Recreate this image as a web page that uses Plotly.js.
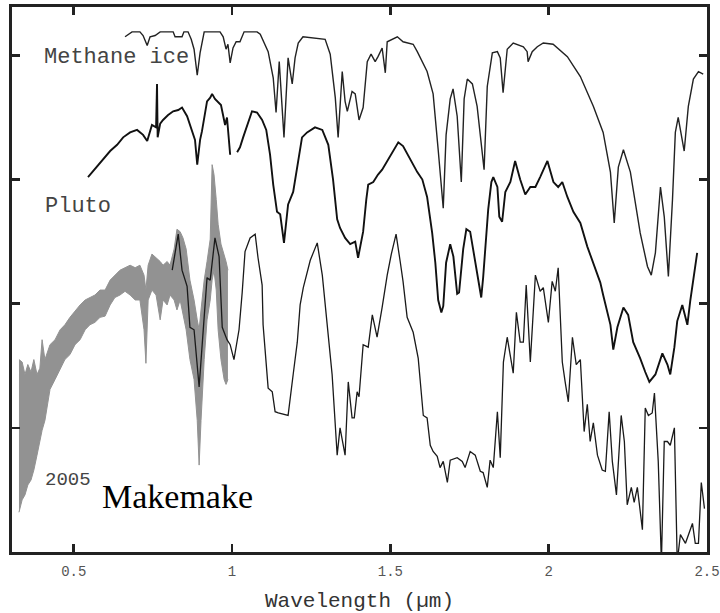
<!DOCTYPE html>
<html>
<head>
<meta charset="utf-8">
<script src="https://cdn.plot.ly/plotly-3.0.1.min.js"></script>
<style>html,body{margin:0;padding:0;background:#fff;}#chart{width:720px;height:613px;}</style>
</head>
<body>
<div id="chart"></div>
<script>
// ---- Data (wavelength in µm, offset relative reflectance) ----
var methaneX = [
  0.662,0.684,0.709,0.719,0.732,0.741,0.757,0.773,0.814,0.820,
  0.842,0.848,0.861,0.871,0.880,0.890,0.899,0.912,0.937,0.962,
  0.972,0.981,0.987,0.994,1.003,1.013,1.025,1.038,1.079,1.089,
  1.114,1.130,1.139,1.149,1.164,1.177,1.190,1.199,1.209,1.224,
  1.294,1.310,1.326,1.335,1.348,1.357,1.364,1.379,1.389,1.401,
  1.414,1.427,1.439,1.452,1.461,1.474,1.484,1.490,1.522,1.540,
  1.572,1.585,1.616,1.635,1.651,1.667,1.676,1.689,1.698,1.711,
  1.724,1.733,1.743,1.759,1.774,1.784,1.796,1.806,1.822,1.838,
  1.847,1.856,1.869,1.888,1.920,1.932,1.935,1.948,1.964,1.983,
  2.014,2.059,2.100,2.141,2.172,2.195,2.207,2.220,2.236,2.258,
  2.289,2.312,2.324,2.337,2.353,2.365,2.378,2.391,2.400,2.409,
  2.428,2.441,2.457,2.473,2.488];
var methaneY = [
  4.15,4.19,4.19,4.16,4.08,4.15,4.16,4.19,4.19,4.15,
  4.15,4.19,4.19,4.13,4.05,3.84,4.02,4.19,4.19,4.19,
  4.15,4.05,4.09,3.94,4.06,4.11,4.11,4.19,4.19,4.17,
  4.03,3.82,3.54,3.95,3.34,3.98,3.77,3.98,4.10,4.15,
  4.13,4.01,3.66,3.34,3.87,3.63,3.55,3.71,3.69,3.48,
  3.58,3.95,4.01,3.95,3.99,4.06,3.86,4.11,4.15,4.11,
  4.09,4.03,3.87,3.69,3.24,2.77,3.36,3.65,3.73,3.51,
  2.98,3.65,3.81,3.77,3.59,3.38,3.08,3.75,4.02,4.03,
  3.98,3.70,4.05,4.10,4.07,4.03,3.95,4.03,4.07,4.10,
  4.09,3.99,3.83,3.59,3.38,3.06,2.65,3.10,3.24,3.06,
  2.57,2.30,2.23,2.41,2.94,2.70,2.22,2.84,3.38,3.50,
  3.23,3.59,3.81,3.87,3.85];

var plutoX = [
  0.545,0.558,0.574,0.593,0.615,0.637,0.656,0.678,0.700,0.719,
  0.732,0.747,0.760,0.763,0.765,0.773,0.782,0.798,0.814,0.830,
  0.842,0.858,0.874,0.883,0.890,0.899,0.905,0.921,0.931,0.937,
  0.946,0.953,0.965,0.978,0.984,0.994,
  null,
  1.016,1.025,1.035,1.048,1.063,1.079,1.095,1.108,1.120,1.130,
  1.142,1.152,1.164,1.177,1.193,1.209,1.221,1.237,1.262,1.285,
  1.304,1.319,1.332,1.341,1.357,1.373,1.389,1.398,1.414,1.424,
  1.430,1.446,1.461,1.474,1.490,1.506,1.525,1.540,1.563,1.585,
  1.601,1.616,1.632,1.642,1.651,1.661,1.667,1.676,1.689,1.699,
  1.711,1.717,1.730,1.740,1.752,1.768,1.778,1.787,1.793,1.803,
  1.809,1.819,1.825,1.838,1.844,1.853,1.863,1.879,1.894,1.910,
  1.926,1.942,1.958,1.973,1.996,2.015,2.030,2.043,2.059,2.078,
  2.100,2.122,2.141,2.163,2.172,2.195,2.204,2.217,2.236,2.251,
  2.267,2.289,2.305,2.318,2.337,2.359,2.375,2.384,2.397,2.406,
  2.422,2.438,2.447,2.457,2.469];
var plutoY = [
  3.02,3.06,3.10,3.16,3.23,3.28,3.34,3.38,3.40,3.36,
  3.31,3.44,3.42,3.77,3.34,3.45,3.48,3.52,3.55,3.56,
  3.58,3.51,3.39,3.32,3.12,3.32,3.39,3.63,3.66,3.69,
  3.65,3.63,3.60,3.44,3.50,3.20,
  null,
  3.22,3.26,3.34,3.44,3.55,3.54,3.48,3.40,3.20,2.96,
  2.74,2.72,2.49,2.80,2.90,3.15,3.34,3.38,3.42,3.40,
  3.28,3.00,2.68,2.61,2.53,2.48,2.50,2.37,2.58,2.84,
  2.96,2.98,3.04,3.08,3.15,3.22,3.30,3.27,3.16,3.06,
  3.00,2.86,2.57,2.33,2.03,1.93,1.98,2.33,2.48,2.38,
  2.08,2.09,2.44,2.60,2.58,2.35,2.21,2.05,2.21,2.52,
  2.76,2.98,3.02,2.94,2.70,2.66,2.90,2.98,3.15,3.00,
  2.88,2.94,2.94,3.02,3.15,2.98,2.94,2.98,2.86,2.74,
  2.65,2.46,2.33,2.17,2.07,1.83,1.63,1.81,1.97,1.91,
  1.69,1.56,1.45,1.37,1.43,1.60,1.51,1.43,1.65,1.86,
  1.99,1.83,2.02,2.18,2.41];

var makemakeX = [
  0.811,0.830,0.842,0.858,0.867,0.880,0.896,0.908,0.921,0.931,
  0.946,0.959,0.969,0.984,0.994,1.006,1.022,1.032,1.041,1.057,
  1.073,1.082,1.095,1.098,1.114,1.127,1.136,1.146,1.177,1.193,
  1.206,1.215,1.225,1.247,1.269,1.285,1.300,1.316,1.332,1.341,
  1.357,1.367,1.379,1.386,1.395,1.401,1.414,1.430,1.443,1.458,
  1.474,1.490,1.503,1.518,1.531,1.540,1.553,1.563,1.572,1.588,
  1.604,1.616,1.626,1.635,1.648,1.657,1.667,1.680,1.689,1.711,
  1.727,1.736,1.752,1.768,1.784,1.793,1.806,1.815,1.825,1.838,
  1.847,1.857,1.869,1.888,1.898,1.910,1.920,1.929,1.942,1.958,
  1.973,1.983,1.999,2.011,2.021,2.030,2.043,2.052,2.062,2.075,
  2.087,2.100,2.112,2.122,2.131,2.141,2.154,2.169,2.179,2.191,
  2.201,2.214,2.229,2.239,2.248,2.261,2.270,2.280,2.296,2.305,
  2.315,2.327,2.334,2.346,2.356,2.365,2.375,2.384,2.397,2.406,
  2.416,2.432,2.441,2.454,2.463,2.473,2.482,2.492];
var makemakeY = [
  2.27,2.56,2.27,2.14,1.81,1.79,1.33,1.73,2.21,2.19,
  2.53,2.38,1.81,1.71,1.67,1.55,1.79,2.09,2.42,2.53,
  2.56,2.37,2.15,1.83,1.32,1.29,1.13,1.12,1.10,1.43,
  1.69,1.99,2.13,2.35,2.49,2.23,1.83,1.43,0.78,1.00,
  0.78,1.37,1.08,1.08,1.29,1.25,1.67,1.65,1.91,1.73,
  1.97,2.23,2.40,2.56,2.34,2.18,1.89,1.83,1.77,1.56,
  1.10,1.08,0.86,0.81,0.77,0.68,0.73,0.56,0.74,0.76,
  0.73,0.68,0.81,0.78,0.65,0.64,0.52,0.74,0.68,1.13,
  0.76,1.53,1.73,1.44,1.93,1.69,1.69,2.15,1.53,2.23,
  2.10,2.13,1.85,2.18,2.10,2.29,1.53,1.37,1.21,1.73,
  1.51,1.55,0.97,1.19,0.89,1.04,0.78,0.66,0.65,1.13,
  0.73,0.46,1.10,0.89,0.38,0.52,0.40,0.52,0.18,1.16,
  1.10,1.12,1.28,0.73,-0.08,0.89,0.89,0.86,1.00,-0.08,
  0.14,0.07,0.14,0.23,0.07,0.07,0.56,0.35];

// Makemake 2005 visible spectrum (grey, noisy): envelope of the noise band
var visX = [
  0.327,0.337,0.346,0.355,0.365,0.374,0.384,0.393,0.400,0.409,
  0.425,0.441,0.457,0.472,0.488,0.504,0.520,0.536,0.551,0.567,
  0.583,0.599,0.615,0.630,0.646,0.662,0.678,0.694,0.709,0.722,
  0.728,0.735,0.747,0.760,0.773,0.782,0.795,0.804,0.817,0.826,
  0.836,0.845,0.855,0.867,0.880,0.890,0.896,0.902,0.912,0.921,
  0.931,0.937,0.943,0.950,0.956,0.965,0.975,0.981,0.987];
var visHigh = [
  1.55,1.53,1.43,1.51,1.45,1.55,1.43,1.48,1.71,1.55,
  1.67,1.71,1.79,1.83,1.89,1.94,1.99,2.03,2.05,2.07,
  2.11,2.11,2.19,2.23,2.27,2.29,2.31,2.29,2.31,2.23,
  2.11,2.31,2.40,2.37,2.34,2.31,2.34,2.31,2.44,2.60,
  2.58,2.53,2.44,2.19,2.03,1.87,1.79,1.95,2.19,2.34,
  2.52,3.12,3.04,2.84,2.64,2.48,2.40,2.34,2.27];
var visLow = [
  0.32,0.42,0.46,0.54,0.58,0.66,0.78,0.90,0.98,1.06,
  1.31,1.39,1.47,1.55,1.59,1.67,1.71,1.79,1.83,1.85,
  1.89,1.90,1.99,2.05,2.07,2.10,2.07,2.03,2.03,1.79,
  1.52,2.03,2.11,2.07,1.87,2.03,1.99,2.07,2.03,1.95,
  2.03,1.91,1.79,1.55,1.39,1.06,0.70,1.06,1.55,1.87,
  2.03,2.19,2.27,2.11,1.79,1.55,1.39,1.35,1.39];

var xTickVals = [0.5, 1, 1.5, 2, 2.5];
var xTickText = ['0.5', '1', '1.5', '2', '2.5'];
var yTickVals = [1, 2, 3, 4];

var grey = '#929292';
var traces = [
  {x: visX, y: visLow, mode: 'lines', line: {color: grey, width: 1}, hoverinfo: 'skip'},
  {x: visX, y: visHigh, mode: 'lines', fill: 'tonexty', fillcolor: grey, line: {color: grey, width: 1}, hoverinfo: 'skip'},
  {x: makemakeX, y: makemakeY, mode: 'lines', line: {color: '#1a1a1a', width: 1.3}},
  {x: plutoX, y: plutoY, mode: 'lines', connectgaps: false, line: {color: '#111', width: 1.9}},
  {x: methaneX, y: methaneY, mode: 'lines', line: {color: '#222', width: 1.4}}
];

var axisCommon = {
  showgrid: false, zeroline: false, showline: true, linewidth: 3, linecolor: '#222',
  mirror: 'ticks', ticks: 'inside', ticklen: 8, tickwidth: 2.5, tickcolor: '#222'
};

var layout = {
  width: 720, height: 613,
  margin: {l: 12, r: 13, t: 7, b: 61},
  paper_bgcolor: '#fff', plot_bgcolor: '#fff',
  showlegend: false,
  xaxis: Object.assign({}, axisCommon, {
    range: [0.305, 2.5], tickmode: 'array', tickvals: xTickVals, ticktext: xTickText,
    ticklabelstandoff: 4,
    tickfont: {family: 'Liberation Mono, monospace', size: 14, color: '#555'},
    title: {text: 'Wavelength (µm)', font: {family: 'Liberation Mono, monospace', size: 21, color: '#333'}}
  }),
  yaxis: Object.assign({}, axisCommon, {
    range: [0, 4.39], tickmode: 'array', tickvals: yTickVals, showticklabels: false
  }),
  annotations: [
    {text: 'Methane ice', x: 0.400, y: 3.98, xref: 'x', yref: 'y', xanchor: 'left', yanchor: 'middle', showarrow: false,
     font: {family: 'Liberation Mono, monospace', size: 22, color: '#444'}},
    {text: 'Pluto', x: 0.403, y: 2.78, xref: 'x', yref: 'y', xanchor: 'left', yanchor: 'middle', showarrow: false,
     font: {family: 'Liberation Mono, monospace', size: 22, color: '#444'}},
    {text: '2005', x: 0.403, y: 0.58, xref: 'x', yref: 'y', xanchor: 'left', yanchor: 'middle', showarrow: false,
     font: {family: 'Liberation Mono, monospace', size: 19, color: '#444'}},
    {text: 'Makemake', x: 0.583, y: 0.45, xref: 'x', yref: 'y', xanchor: 'left', yanchor: 'middle', showarrow: false,
     font: {family: 'Liberation Serif, Times New Roman, serif', size: 34, color: '#000'}}
  ]
};

Plotly.newPlot('chart', traces, layout, {staticPlot: true, displayModeBar: false});
</script>
</body>
</html>
